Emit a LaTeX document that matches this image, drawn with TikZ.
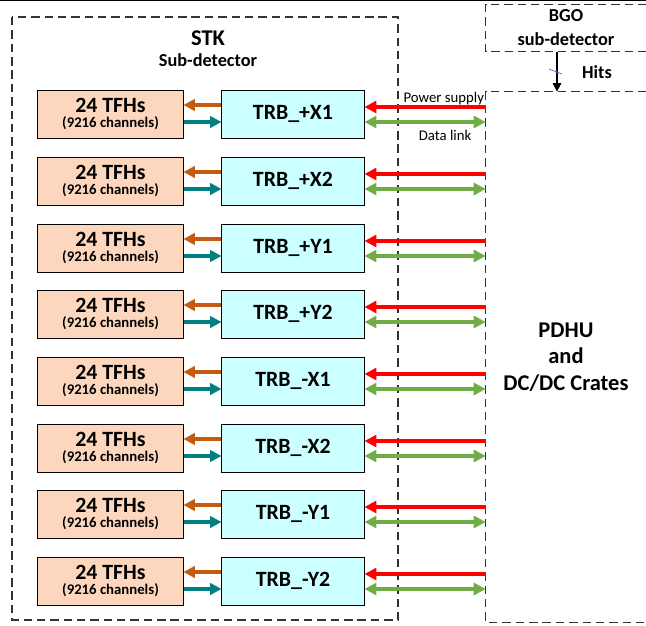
\documentclass[tikz,border=0pt]{standalone}
\usepackage{fontspec}
\setmainfont{Carlito}
\usepackage{xcolor}
\usetikzlibrary{arrows.meta,positioning}

\definecolor{tfhfill}{RGB}{252,215,190}
\definecolor{trbfill}{RGB}{204,255,255}
\definecolor{pwrred}{RGB}{255,0,0}
\definecolor{datagreen}{RGB}{112,173,71}
\definecolor{cmdbrown}{RGB}{197,90,17}
\definecolor{rdteal}{RGB}{0,128,128}
\definecolor{dashgrey}{RGB}{50,50,50}
\definecolor{slashblue}{RGB}{91,130,190}

\begin{document}
\begin{tikzpicture}[x=0.025cm, y=-0.025cm,
    tfh/.style={rectangle, draw=black, line width=0.7pt, fill=tfhfill, minimum width=3.625cm, minimum height=1.2cm, align=center, inner sep=0pt},
    trb/.style={rectangle, draw=black, line width=0.7pt, fill=trbfill, minimum width=3.55cm, minimum height=1.2cm, font=\bfseries\fontsize{15.5}{18}\selectfont},
    region/.style={draw=dashgrey, line width=0.9pt, dash pattern=on 6pt off 3.5pt},
    title/.style={align=center, font=\bfseries\fontsize{13}{17}\selectfont},
    toleft/.style={line width=2.6pt, -{Triangle[length=8pt,width=8pt]}},
    power/.style={draw=pwrred, line width=3pt, -{Triangle[length=8.5pt,width=8.5pt]}},
    datalink/.style={draw=datagreen, line width=3pt, {Triangle[length=8.5pt,width=8.5pt]}-{Triangle[length=8.5pt,width=8.5pt]}},
    note/.style={font=\fontsize{10.5}{12}\selectfont, inner sep=1pt}
]
\useasboundingbox (0,0) rectangle (646,626);
\draw[line width=1.2pt] (0,0.6) -- (646,0.6);

% STK sub-detector
\draw[region] (12,17) rectangle (398,620);
\node[title, font=\bfseries\fontsize{16}{18}\selectfont] (stk) at (208,38) {STK};
\node[title] (stksub) at (208,60) {Sub-detector};

% BGO and PDHU (open on the right)
\node[title, minimum width=4cm, minimum height=1.175cm, inner sep=0pt] (bgo) at (566,28) {BGO\\sub-detector};
\node[title, align=center, font=\bfseries\fontsize{16}{19}\selectfont, minimum width=4cm, minimum height=13.25cm, inner sep=0pt] (pdhu) at (566,357) {PDHU\\and\\DC/DC Crates};
\draw[region] (bgo.north east) -- (bgo.north west) -- (bgo.south west) -- (bgo.south east);
\draw[region] (pdhu.north east) -- (pdhu.north west) -- (pdhu.south west) -- (pdhu.south east);

% Hits
\draw[line width=0.9pt, -{Triangle[length=6pt,width=6pt]}] ([xshift=-0.225cm]bgo.south) -- ([xshift=-0.225cm]bgo.south |- pdhu.north);
\draw[slashblue, line width=0.6pt] (549,69) -- (562,74);
\node[title] (hits) at (597,72) {Hits};

% Front-end boards
\node[tfh] (tfh1) at (110.5,114) {{\bfseries\fontsize{15.5}{18}\selectfont 24 TFHs}\\[-1pt]{\bfseries\fontsize{10.5}{12}\selectfont (9216 channels)}};
\node[tfh] (tfh2) at (110.5,181) {{\bfseries\fontsize{15.5}{18}\selectfont 24 TFHs}\\[-1pt]{\bfseries\fontsize{10.5}{12}\selectfont (9216 channels)}};
\node[tfh] (tfh3) at (110.5,248) {{\bfseries\fontsize{15.5}{18}\selectfont 24 TFHs}\\[-1pt]{\bfseries\fontsize{10.5}{12}\selectfont (9216 channels)}};
\node[tfh] (tfh4) at (110.5,314) {{\bfseries\fontsize{15.5}{18}\selectfont 24 TFHs}\\[-1pt]{\bfseries\fontsize{10.5}{12}\selectfont (9216 channels)}};
\node[tfh] (tfh5) at (110.5,381) {{\bfseries\fontsize{15.5}{18}\selectfont 24 TFHs}\\[-1pt]{\bfseries\fontsize{10.5}{12}\selectfont (9216 channels)}};
\node[tfh] (tfh6) at (110.5,448) {{\bfseries\fontsize{15.5}{18}\selectfont 24 TFHs}\\[-1pt]{\bfseries\fontsize{10.5}{12}\selectfont (9216 channels)}};
\node[tfh] (tfh7) at (110.5,514) {{\bfseries\fontsize{15.5}{18}\selectfont 24 TFHs}\\[-1pt]{\bfseries\fontsize{10.5}{12}\selectfont (9216 channels)}};
\node[tfh] (tfh8) at (110.5,581) {{\bfseries\fontsize{15.5}{18}\selectfont 24 TFHs}\\[-1pt]{\bfseries\fontsize{10.5}{12}\selectfont (9216 channels)}};

% Tracker readout boards
\node[trb] (trb1) at (293,114) {TRB\_+X1};
\node[trb] (trb2) at (293,181) {TRB\_+X2};
\node[trb] (trb3) at (293,248) {TRB\_+Y1};
\node[trb] (trb4) at (293,314) {TRB\_+Y2};
\node[trb] (trb5) at (293,381) {TRB\_-X1};
\node[trb] (trb6) at (293,448) {TRB\_-X2};
\node[trb] (trb7) at (293,514) {TRB\_-Y1};
\node[trb] (trb8) at (293,581) {TRB\_-Y2};

% Arrows
\foreach \i in {1,...,8} {
    \draw[toleft, draw=cmdbrown] ([yshift=0.225cm]trb\i.west) -- ([yshift=0.225cm]trb\i.west -| tfh\i.east);
    \draw[toleft, draw=rdteal] ([yshift=-0.2cm]tfh\i.east) -- ([yshift=-0.2cm]tfh\i.east -| trb\i.west);
    \draw[power] ([yshift=0.175cm]trb\i.east -| pdhu.west) -- ([yshift=0.175cm]trb\i.east);
    \draw[datalink] ([yshift=-0.2cm]trb\i.east) -- ([yshift=-0.2cm]trb\i.east -| pdhu.west);
}

% Link labels
\node[note, above left=0pt and 0pt of {[yshift=0.175cm]trb1.east -| pdhu.west}] (pwr) {Power supply};
\node[note, below left=4.5pt and 9pt of {[yshift=-0.2cm]trb1.east -| pdhu.west}] (dl) {Data link};

\end{tikzpicture}
\end{document}
